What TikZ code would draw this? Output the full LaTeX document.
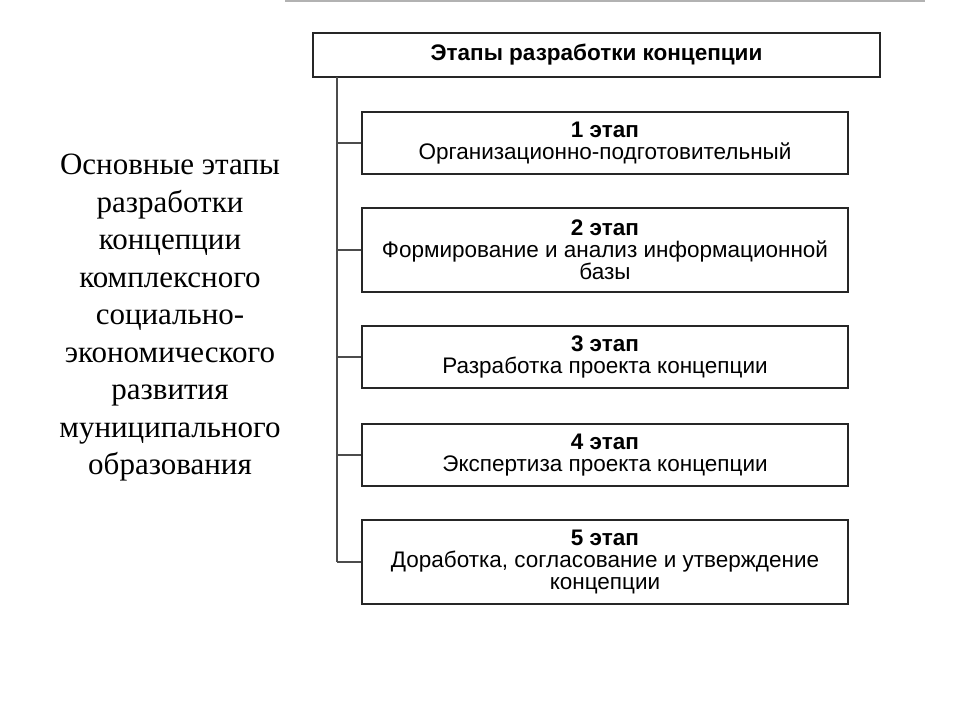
\documentclass[tikz,border=0pt]{standalone}
\usepackage{fontspec}
\setmainfont{Liberation Serif}
\newfontfamily\boxfont{Liberation Sans}
\begin{document}
\begin{tikzpicture}[x=1pt,y=-1pt,
  stagebox/.style={draw=black!85,line width=1.6pt,minimum width=486pt,align=center,font=\boxfont\fontsize{22.5}{22}\selectfont,inner sep=0pt},
  link/.style={draw=black!70,line width=1.3pt}]
\useasboundingbox (0,0) rectangle (960,720);
\fill[white] (0,0) rectangle (960,720);
\draw[gray!60,line width=2.5pt] (285,1) -- (925,1);
\node[stagebox,minimum width=567pt,minimum height=44pt,font=\boxfont\bfseries\fontsize{22.5}{22}\selectfont] (h) at (596.5,55) {Этапы разработки концепции};
\node[stagebox,minimum height=62pt] (s1) at (605,143) {\textbf{1 этап}\\Организационно-подготовительный};
\node[stagebox,minimum height=84pt] (s2) at (605,250) {\textbf{2 этап}\\Формирование и анализ информационной\\базы};
\node[stagebox,minimum height=62pt] (s3) at (605,357) {\textbf{3 этап}\\Разработка проекта концепции};
\node[stagebox,minimum height=62pt] (s4) at (605,455) {\textbf{4 этап}\\Экспертиза проекта концепции};
\node[stagebox,minimum height=84pt] (s5) at (605,562) {\textbf{5 этап}\\Доработка, согласование и утверждение\\концепции};
\coordinate (t0) at (337,77);
\coordinate (t5) at (337,562);
\draw[link] (t0) -- (t5);
\foreach \s in {s1,s2,s3,s4,s5} \draw[link] (\s.west) -- (t0 |- \s.west);
\node[align=center,font=\fontsize{31}{37.5}\selectfont] (lbl) at (170,318) {Основные этапы\\разработки\\концепции\\комплексного\\социально-\\экономического\\развития\\муниципального\\образования};
\end{tikzpicture}
\end{document}
